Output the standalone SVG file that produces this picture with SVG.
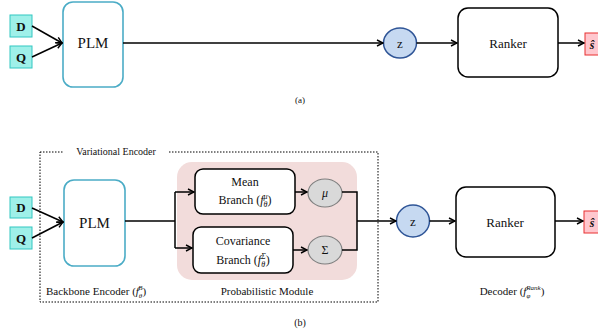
<svg xmlns="http://www.w3.org/2000/svg" width="598" height="334" viewBox="0 0 598 334">
<style>
text{font-family:"Liberation Serif","Times New Roman",serif;fill:#111}
.in{fill:#9ff0e9;stroke:#33c7c2;stroke-width:1}
.plm{fill:#fff;stroke:#4bacc6;stroke-width:1.6}
.rk{fill:#fff;stroke:#000;stroke-width:1.5}
.z{fill:#c6d9f1;stroke:#2f5597;stroke-width:1.5}
.g{fill:#d9d9d9;stroke:#7f7f7f;stroke-width:1.2}
.out{fill:#ffc7ce;stroke:#e83030;stroke-width:1}
.ln{fill:none;stroke:#000;stroke-width:1.5}
.ar{marker-end:url(#ah)}
</style>
<defs>
<marker id="ah" markerWidth="8" markerHeight="8" refX="7" refY="4" orient="auto" markerUnits="userSpaceOnUse">
<path d="M1,1 L7,4 L1,7" fill="none" stroke="#000" stroke-width="1.4"/>
</marker>
</defs>

<!-- (a) -->
<g id="a-D"><rect class="in" x="10" y="15" width="22" height="22"/><text x="21" y="31" font-size="13" font-weight="bold" text-anchor="middle">D</text></g>
<g id="a-Q"><rect class="in" x="10" y="46" width="22" height="22"/><text x="21" y="62" font-size="13" font-weight="bold" text-anchor="middle">Q</text></g>
<g id="a-PLM"><rect class="plm" x="63" y="2" width="60" height="85" rx="10"/><text x="93" y="48" font-size="15" text-anchor="middle">PLM</text></g>
<g id="a-z"><ellipse class="z" cx="400" cy="43" rx="16.5" ry="15"/><text x="400" y="48" font-size="13" text-anchor="middle">z</text></g>
<g id="a-Ranker"><rect class="rk" x="458" y="8" width="100" height="69" rx="10"/><text x="508" y="48" font-size="13" text-anchor="middle">Ranker</text></g>
<g id="a-s"><rect class="out" x="585" y="33" width="16" height="22"/><text x="592" y="49" font-size="12" font-weight="bold" font-style="italic" text-anchor="middle">ŝ</text></g>
<text x="300" y="103" font-size="9" text-anchor="middle">(a)</text>

<!-- (b) -->
<g id="b-encoder">
<rect x="40" y="152" width="338" height="150" fill="none" stroke="#000" stroke-width="1" stroke-dasharray="1.5,1.5"/>
<rect x="63" y="146" width="105" height="10" fill="#fff"/>
<text x="116" y="155" font-size="10" text-anchor="middle">Variational Encoder</text>
</g>
<g id="b-prob">
<rect x="177" y="162" width="180" height="118" rx="15" fill="#f2dcdb"/>
<text x="267" y="295" font-size="11" text-anchor="middle">Probabilistic Module</text>
</g>
<g id="b-D"><rect class="in" x="10" y="197" width="22" height="21"/><text x="21" y="212" font-size="13" font-weight="bold" text-anchor="middle">D</text></g>
<g id="b-Q"><rect class="in" x="10" y="227" width="22" height="22"/><text x="21" y="243" font-size="13" font-weight="bold" text-anchor="middle">Q</text></g>
<g id="b-PLM"><rect class="plm" x="64" y="180" width="61" height="86" rx="10"/><text x="94.5" y="228" font-size="15" text-anchor="middle">PLM</text></g>
<text x="46" y="295" font-size="11">Backbone Encoder (<tspan font-style="italic">f</tspan><tspan font-style="italic" font-size="7" dy="3">θ</tspan><tspan font-style="italic" font-size="7" dx="-4" dy="-8">B</tspan><tspan dy="5">)</tspan></text>
<g id="b-mean"><rect class="rk" x="195" y="169" width="100" height="45" rx="8"/>
<text x="245" y="186" font-size="12" text-anchor="middle">Mean</text>
<text x="245" y="204" font-size="12" text-anchor="middle">Branch (<tspan font-style="italic">f</tspan><tspan font-style="italic" font-size="8" dy="3">θ</tspan><tspan font-style="italic" font-size="8" dx="-4" dy="-8">μ</tspan><tspan dy="5">)</tspan></text></g>
<g id="b-cov"><rect class="rk" x="193" y="227" width="100" height="46" rx="8"/>
<text x="243" y="245" font-size="12" text-anchor="middle">Covariance</text>
<text x="243" y="264" font-size="12" text-anchor="middle">Branch (<tspan font-style="italic">f</tspan><tspan font-style="italic" font-size="8" dy="3">θ</tspan><tspan font-style="italic" font-size="8" dx="-4" dy="-8">Σ</tspan><tspan dy="5">)</tspan></text></g>
<g id="b-mu"><ellipse class="g" cx="325" cy="193" rx="17" ry="14"/><text x="325" y="197" font-size="12" font-style="italic" text-anchor="middle">μ</text></g>
<g id="b-sigma"><ellipse class="g" cx="325" cy="250" rx="17" ry="14"/><text x="325" y="254" font-size="12" text-anchor="middle">Σ</text></g>
<g id="b-z"><ellipse class="z" cx="413" cy="221" rx="16.5" ry="16"/><text x="413" y="226" font-size="13" text-anchor="middle">z</text></g>
<g id="b-Ranker"><rect class="rk" x="456" y="187" width="99" height="70" rx="10"/><text x="505" y="227" font-size="13" text-anchor="middle">Ranker</text></g>
<g id="b-s"><rect class="out" x="584" y="211" width="17" height="22"/><text x="592" y="227" font-size="12" font-weight="bold" font-style="italic" text-anchor="middle">ŝ</text></g>
<text x="512" y="295" font-size="11" text-anchor="middle">Decoder (<tspan font-style="italic">f</tspan><tspan font-style="italic" font-size="7" dy="3">φ</tspan><tspan font-style="italic" font-size="7" dx="-4" dy="-8">Rank</tspan><tspan dy="5">)</tspan></text>
<text x="300" y="326" font-size="10" text-anchor="middle">(b)</text>

<g id="connectors">
<path class="ln ar" d="M32,26 L62,43"/>
<path class="ln ar" d="M32,57 L62,43"/>
<path class="ln ar" d="M123,43 L383,43"/>
<path class="ln ar" d="M416.5,43 L457,43"/>
<path class="ln ar" d="M558,43 L584,43"/>

<path class="ln ar" d="M32,208 L63,222"/>
<path class="ln ar" d="M32,238 L63,222"/>
<path class="ln" d="M125,221 L175,221"/>
<path class="ln" d="M175,192 L175,248"/>
<path class="ln ar" d="M175,192 L194,192"/>
<path class="ln ar" d="M175,248 L192,248"/>
<path class="ln ar" d="M295,192 L307,192"/>
<path class="ln ar" d="M293,250 L307,250"/>
<path class="ln" d="M342,192 L357,192 L357,250 L342,250"/>
<path class="ln ar" d="M357,221 L396,221"/>
<path class="ln ar" d="M429.5,221 L455,221"/>
<path class="ln ar" d="M555,221 L583,221"/>
</g>
</svg>
